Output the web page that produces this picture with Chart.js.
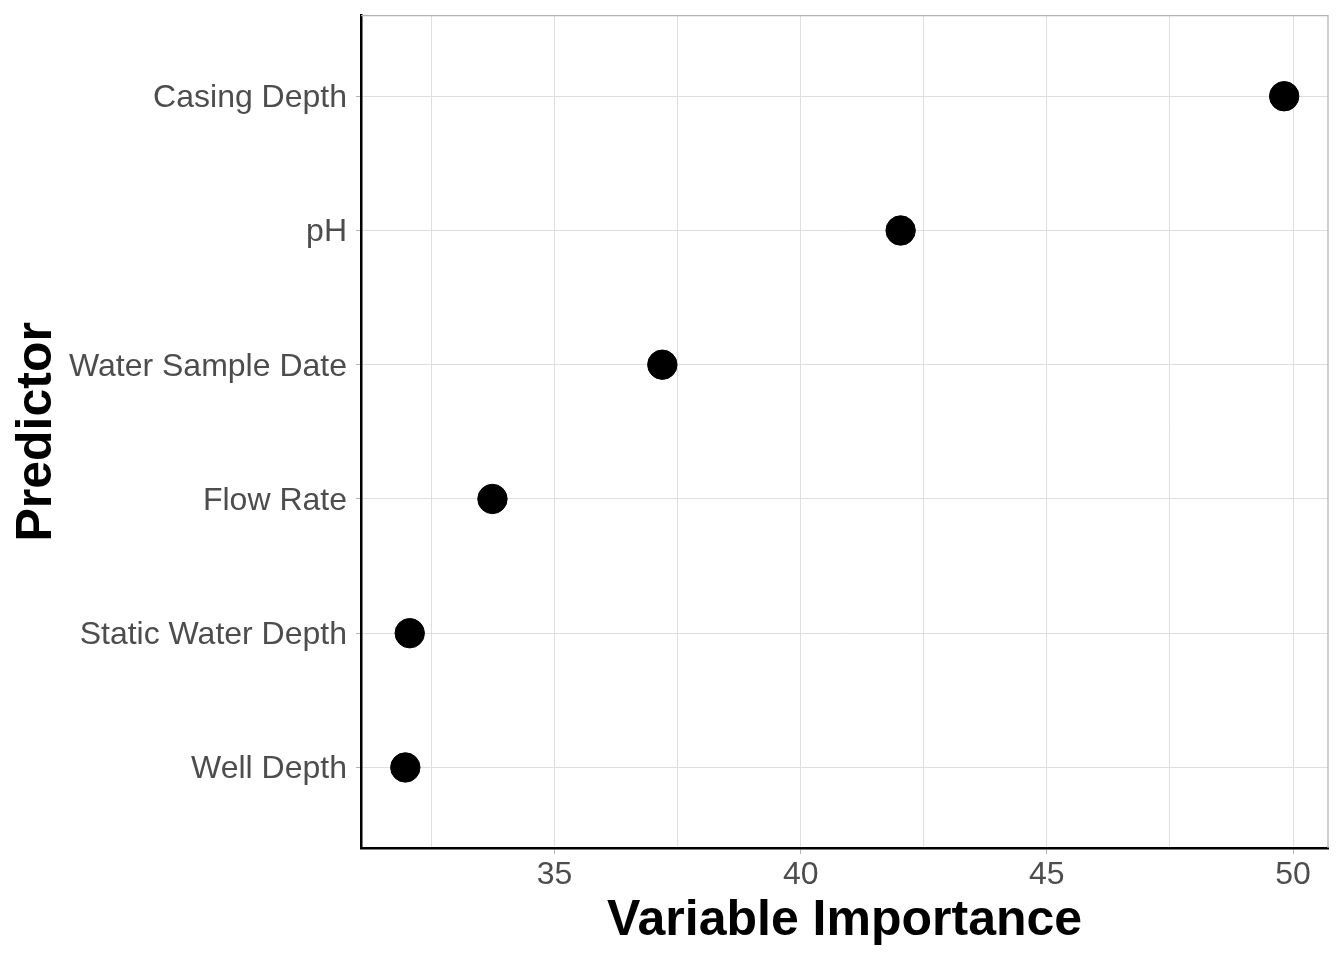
<!DOCTYPE html>
<html>
<head>
<meta charset="utf-8">
<script src="https://cdn.jsdelivr.net/npm/chart.js@4.4.1/dist/chart.umd.min.js"></script>
<style>
  html, body { margin: 0; padding: 0; background: #fff; }
  #wrap { width: 1344px; height: 960px; }
</style>
</head>
<body>
<div id="wrap"><canvas id="dotChart"></canvas></div>
<script>
// predictors listed top to bottom
const predictors = ['Casing Depth', 'pH', 'Water Sample Date', 'Flow Rate', 'Static Water Depth', 'Well Depth'];
const importance = [49.82, 42.03, 37.19, 33.74, 32.06, 31.97];
const xTicks = [32.5, 35, 37.5, 40, 42.5, 45, 47.5, 50];
const xLabels = [35, 40, 45, 50];

// gray panel border on top and right (theme_light look)
const panelBorder = {
  id: 'panelBorder',
  beforeDatasetsDraw(chart) {
    const { ctx, chartArea } = chart;
    ctx.save();
    ctx.strokeStyle = '#b3b3b3';
    ctx.lineWidth = 1.3;
    ctx.beginPath();
    ctx.moveTo(chartArea.left, chartArea.top);
    ctx.lineTo(chartArea.right, chartArea.top);
    ctx.lineTo(chartArea.right, chartArea.bottom);
    ctx.stroke();
    ctx.restore();
  }
};

const points = importance.map((v, i) => ({ x: v, y: i }));

new Chart(document.getElementById('dotChart'), {
  type: 'scatter',
  data: {
    datasets: [{
      data: points,
      backgroundColor: '#000',
      borderColor: '#000',
      pointRadius: 14.7,
      pointHoverRadius: 14.7
    }]
  },
  options: {
    responsive: true,
    maintainAspectRatio: false,
    animation: false,
    layout: { padding: { left: 0, right: 16, top: 15, bottom: 0 } },
    plugins: { legend: { display: false }, tooltip: { enabled: false } },
    scales: {
      x: {
        type: 'linear',
        min: 31.07,
        max: 50.71,
        afterBuildTicks: (scale) => { scale.ticks = xTicks.map(v => ({ value: v })); },
        afterFit: (scale) => { scale.height = 112; scale.paddingLeft = 0; scale.paddingRight = 0; },
        grid: { color: '#dedede', lineWidth: 1, tickLength: 6, tickColor: (c) => xLabels.includes(c.tick.value) ? '#b3b3b3' : 'rgba(0,0,0,0)' },
        border: { display: true, color: '#000', width: 2.5 },
        ticks: {
          padding: 2,
          color: '#4d4d4d',
          font: { family: '"Liberation Sans", Arial, sans-serif', size: 32 },
          callback: (v) => xLabels.includes(v) ? String(v) : ''
        },
        title: {
          display: true,
          text: 'Variable Importance',
          color: '#000',
          font: { family: '"Liberation Sans", Arial, sans-serif', size: 50, weight: 'bold' },
          padding: { top: 0, bottom: 9 }
        }
      },
      y: {
        type: 'linear',
        reverse: true,
        min: -0.6,
        max: 5.6,
        afterBuildTicks: (scale) => { scale.ticks = predictors.map((p, i) => ({ value: i })); },
        afterFit: (scale) => { scale.width = 361; scale.paddingTop = 0; scale.paddingBottom = 0; },
        grid: { color: '#dedede', lineWidth: 1, tickLength: 5, tickColor: '#b3b3b3' },
        border: { display: true, color: '#000', width: 2.5 },
        ticks: {
          padding: 9,
          labelOffset: 2,
          color: '#4d4d4d',
          font: { family: '"Liberation Sans", Arial, sans-serif', size: 32 },
          callback: (v) => predictors[v]
        },
        title: {
          display: true,
          text: 'Predictor',
          color: '#000',
          font: { family: '"Liberation Sans", Arial, sans-serif', size: 50, weight: 'bold' },
          padding: { top: 7, bottom: 0 }
        }
      }
    }
  },
  plugins: [panelBorder]
});
</script>
</body>
</html>
